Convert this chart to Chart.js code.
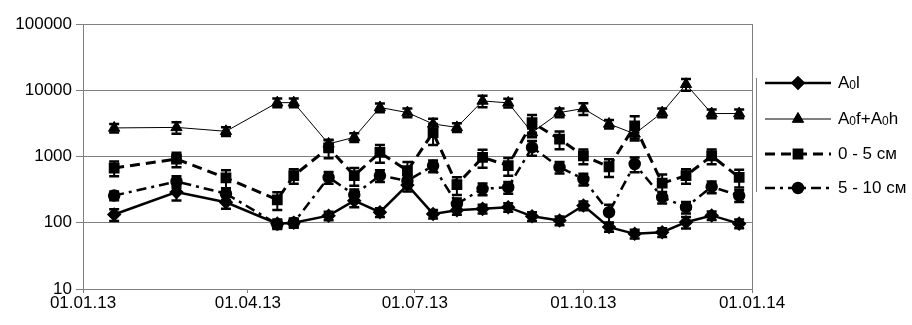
<!DOCTYPE html>
<html>
  <head>
    <script src="https://cdn.jsdelivr.net/npm/chart.js"></script>
    <style>
      body { margin: 0; background: #fff; }
      #wrap { width: 912px; height: 325px; }
    </style>
  </head>
  <body>
    <div id="wrap"><canvas id="chart" width="912" height="325"></canvas></div>

    <script>
      // sampling days, counted from 01.01.13
      var days = [17, 51, 78, 106, 115, 134, 148, 162, 177, 191, 204, 218, 232, 245, 260, 273, 287, 301, 316, 329, 343, 358];

      var a0l = [133, 290, 204, 97, 100, 128, 215, 144, 370, 136, 155, 162, 172, 125, 108, 182, 86, 68, 72, 102, 129, 97];
      var a0fh = [2700, 2750, 2400, 6500, 6500, 1550, 1950, 5500, 4600, 3100, 2750, 6900, 6450, 2300, 4600, 5300, 3100, 2200, 4600, 12300, 4450, 4450];
      var cm0_5 = [670, 915, 475, 222, 515, 1350, 515, 1150, 610, 2300, 375, 970, 730, 3250, 1830, 1020, 700, 2900, 395, 515, 1020, 485];
      var cm5_10 = [257, 420, 275, 95, 100, 485, 265, 515, 430, 725, 193, 325, 343, 1370, 690, 458, 144, 770, 243, 172, 350, 257];

      // relative error (fraction of value)
      var a0l_err = [0.2, 0.25, 0.2, 0.15, 0.15, 0.15, 0.2, 0.15, 0.2, 0.15, 0.15, 0.15, 0.15, 0.15, 0.15, 0.15, 0.15, 0.15, 0.15, 0.2, 0.15, 0.15];
      var a0fh_err = [0.15, 0.2, 0.15, 0.15, 0.15, 0.15, 0.15, 0.15, 0.15, 0.2, 0.15, 0.2, 0.15, 0.15, 0.15, 0.2, 0.15, 0.15, 0.15, 0.2, 0.15, 0.15];
      var cm0_5_err = [0.25, 0.25, 0.3, 0.3, 0.25, 0.3, 0.3, 0.3, 0.35, 0.35, 0.3, 0.3, 0.3, 0.3, 0.3, 0.25, 0.3, 0.4, 0.35, 0.25, 0.25, 0.3];
      var cm5_10_err = [0.15, 0.2, 0.2, 0.15, 0.15, 0.2, 0.2, 0.2, 0.2, 0.2, 0.2, 0.2, 0.2, 0.25, 0.2, 0.2, 0.3, 0.25, 0.2, 0.2, 0.2, 0.2];

      var tickDays = [0, 90, 181, 273, 365];
      var tickLabels = ["01.01.13", "01.04.13", "01.07.13", "01.10.13", "01.01.14"];
      var yTicks = [10, 100, 1000, 10000, 100000];

      var FONT = "Liberation Sans, Arial, sans-serif";

      function pts(vals) {
        return vals.map(function (v, i) { return { x: days[i], y: v }; });
      }

      var errorBars = {
        id: "errorBars",
        afterDatasetsDraw: function (chart) {
          var ctx = chart.ctx;
          var ys = chart.scales.y;
          ctx.save();
          ctx.strokeStyle = "#000";
          chart.data.datasets.forEach(function (ds, di) {
            var meta = chart.getDatasetMeta(di);
            meta.data.forEach(function (p, i) {
              var v = ds.data[i].y;
              var e = ds.err[i] * v;
              var y1 = ys.getPixelForValue(v + e);
              var y2 = ys.getPixelForValue(v - e);
              ctx.lineWidth = 2;
              ctx.beginPath();
              ctx.moveTo(p.x, y1);
              ctx.lineTo(p.x, y2);
              ctx.stroke();
              ctx.lineWidth = 2.5;
              ctx.beginPath();
              ctx.moveTo(p.x - 5, y1);
              ctx.lineTo(p.x + 5, y1);
              ctx.moveTo(p.x - 5, y2);
              ctx.lineTo(p.x + 5, y2);
              ctx.stroke();
            });
          });
          ctx.restore();
        },
      };

      // right frame line + legend drawn on the canvas
      var sideLegend = {
        id: "sideLegend",
        afterDraw: function (chart) {
          var ctx = chart.ctx;
          var a = chart.chartArea;
          ctx.save();
          ctx.strokeStyle = "#808080";
          ctx.lineWidth = 1;
          ctx.beginPath();
          ctx.moveTo(a.right + 0.5, a.top);
          ctx.lineTo(a.right + 0.5, a.bottom);
          ctx.stroke();

          ctx.beginPath();
          ctx.moveTo(756.5, 78);
          ctx.lineTo(756.5, 192);
          ctx.stroke();

          var rows = [
            { y: 83, ds: 0, parts: [["A", 0], ["0", 1], ["l", 0]] },
            { y: 119, ds: 1, parts: [["A", 0], ["0", 1], ["f+A", 0], ["0", 1], ["h", 0]] },
            { y: 154, ds: 2, parts: [["0 - 5 см", 0]] },
            { y: 188, ds: 3, parts: [["5 - 10 см", 0]] },
          ];
          rows.forEach(function (r) {
            var ds = chart.data.datasets[r.ds];
            ctx.strokeStyle = "#000";
            ctx.lineWidth = ds.borderWidth;
            ctx.setLineDash(ds.borderDash || []);
            ctx.beginPath();
            ctx.moveTo(765, r.y);
            ctx.lineTo(831, r.y);
            ctx.stroke();
            ctx.setLineDash([]);
            Chart.helpers.drawPoint(ctx, {
              pointStyle: ds.pointStyle,
              radius: ds.pointRadius,
              borderWidth: 1,
              rotation: 0,
            }, 798, r.y);
            ctx.fillStyle = "#000";
            ctx.fill();

            var x = 838;
            ctx.textBaseline = "middle";
            ctx.textAlign = "left";
            r.parts.forEach(function (p) {
              ctx.font = (p[1] ? "12px " : "17px ") + FONT;
              ctx.fillText(p[0], x, r.y + (p[1] ? 3 : 0));
              x += ctx.measureText(p[0]).width;
            });
          });
          ctx.restore();
        },
      };

      var ctx = document.getElementById("chart").getContext("2d");

      var chart = new Chart(ctx, {
        type: "line",
        data: {
          datasets: [
            {
              label: "A0l",
              data: pts(a0l),
              err: a0l_err,
              borderColor: "#000",
              backgroundColor: "#000",
              borderWidth: 2.5,
              pointStyle: "rectRot",
              pointRadius: 5.5,
            },
            {
              label: "A0f+A0h",
              data: pts(a0fh),
              err: a0fh_err,
              borderColor: "#000",
              backgroundColor: "#000",
              borderWidth: 1,
              pointStyle: "triangle",
              pointRadius: 6.5,
            },
            {
              label: "0 - 5 см",
              data: pts(cm0_5),
              err: cm0_5_err,
              borderColor: "#000",
              backgroundColor: "#000",
              borderWidth: 3,
              borderDash: [10, 6],
              pointStyle: "rect",
              pointRadius: 5.5,
            },
            {
              label: "5 - 10 см",
              data: pts(cm5_10),
              err: cm5_10_err,
              borderColor: "#000",
              backgroundColor: "#000",
              borderWidth: 2.5,
              borderDash: [10, 5, 3, 5],
              pointStyle: "circle",
              pointRadius: 5,
            },
          ],
        },
        options: {
          responsive: false,
          animation: false,
          devicePixelRatio: 1,
          layout: { padding: { top: 24, right: 160, left: 0, bottom: 0 } },
          elements: { line: { tension: 0 } },
          plugins: {
            legend: { display: false },
            tooltip: { enabled: false },
          },
          scales: {
            x: {
              type: "linear",
              min: 0,
              max: 365,
              afterBuildTicks: function (s) {
                s.ticks = tickDays.map(function (d) { return { value: d }; });
              },
              afterFit: function (s) { s.height = 36; },
              ticks: {
                autoSkip: false,
                maxRotation: 0,
                color: "#000",
                padding: 0,
                font: { family: FONT, size: 17 },
                callback: function (v) {
                  return tickLabels[tickDays.indexOf(v)];
                },
              },
              grid: { drawOnChartArea: false, drawTicks: true, tickLength: 4, color: "#808080" },
              border: { color: "#808080", width: 1 },
            },
            y: {
              type: "logarithmic",
              min: 10,
              max: 100000,
              afterBuildTicks: function (s) {
                s.ticks = yTicks.map(function (v) { return { value: v }; });
              },
              afterFit: function (s) { s.width = 83; },
              ticks: {
                color: "#000",
                padding: 4,
                font: { family: FONT, size: 17 },
                callback: function (v) { return String(v); },
              },
              grid: { color: "#808080", tickLength: 7 },
              border: { color: "#808080", width: 1 },
            },
          },
        },
        plugins: [errorBars, sideLegend],
      });
    </script>
  </body>
</html>
